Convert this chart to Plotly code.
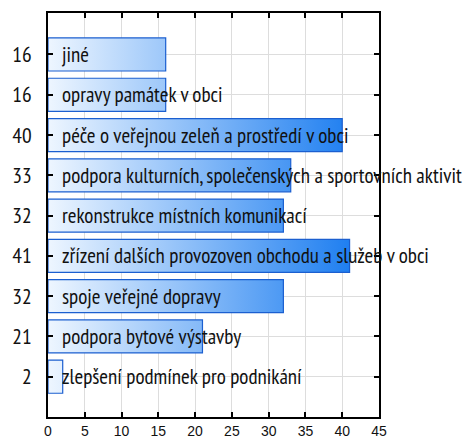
import plotly.graph_objects as go

categories = [
    "jiné",
    "opravy památek v obci",
    "péče o veřejnou zeleň a prostředí v obci",
    "podpora kulturních, společenských a sportovních aktivit",
    "rekonstrukce místních komunikací",
    "zřízení dalších provozoven obchodu a služeb v obci",
    "spoje veřejné dopravy",
    "podpora bytové výstavby",
    "zlepšení podmínek pro podnikání",
]
values = [16, 16, 40, 33, 32, 41, 32, 21, 2]
x_ticks = [0, 5, 10, 15, 20, 25, 30, 35, 40, 45]

COND = "PT Sans Narrow, Fira Sans Condensed, Roboto Condensed, sans-serif"
HALF = 0.41

xs, ys = [], []
for i, v in enumerate(values):
    xs += [0, v, v, 0, 0, None]
    ys += [i - HALF, i - HALF, i + HALF, i + HALF, i - HALF, None]

fig = go.Figure()
fig.add_trace(go.Scatter(
    x=xs, y=ys, mode="lines", fill="toself",
    line=dict(color="#1b5fd0", width=1.2),
    fillgradient=dict(type="horizontal",
                      colorscale=[[0, "#eef6ff"], [1, "#1a7cf0"]],
                      start=0, stop=42),
    hoverinfo="skip", showlegend=False,
))

for i, c in enumerate(categories):
    fig.add_annotation(x=0, y=i, text=c, xanchor="left", yanchor="middle",
                       xshift=12, showarrow=False,
                       font=dict(family=COND, size=21, color="#111"))

fig.update_xaxes(range=[0, 45], tickvals=x_ticks, ticktext=[str(t) for t in x_ticks],
                 showgrid=True, gridcolor="#dddddd", gridwidth=1, zeroline=False,
                 showline=True, linecolor="black", linewidth=2, mirror="ticks",
                 ticks="inside", ticklen=5, tickwidth=1.5, tickcolor="black",
                 automargin=False,
                 tickfont=dict(family="Liberation Sans, Arial, sans-serif", size=14, color="#111"))
fig.update_yaxes(range=[9.0, -1.03], tickvals=list(range(len(values))),
                 ticktext=[str(v) for v in values],
                 showgrid=True, gridcolor="#dddddd", gridwidth=1, zeroline=False,
                 showline=True, linecolor="black", linewidth=2, mirror="ticks",
                 ticks="inside", ticklen=5, tickwidth=1.5, tickcolor="black",
                 ticklabelstandoff=10, automargin=False,
                 tickfont=dict(family=COND, size=21.5, color="#111"))
# the page body adds an 8px offset, so the figure is 8px smaller than the window
fig.update_layout(width=463, height=431, margin=dict(l=40, r=92, t=5, b=22),
                  plot_bgcolor="white", paper_bgcolor="white")
fig.write_html("out.html")
